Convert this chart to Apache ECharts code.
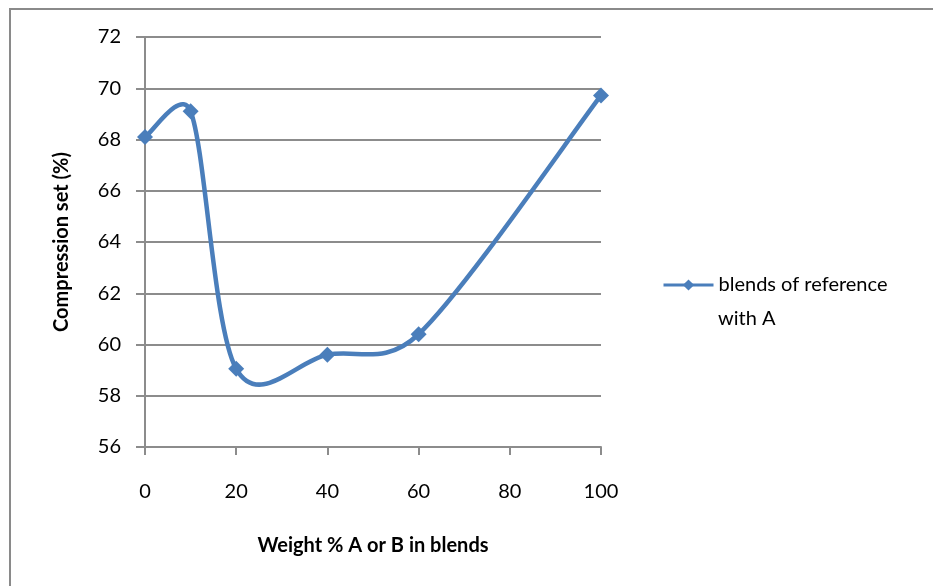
<!DOCTYPE html>
<html>
<head>
<meta charset="utf-8">
<script src="https://cdn.jsdelivr.net/npm/echarts@6/dist/echarts.min.js"></script>
<style>
  html, body { margin: 0; padding: 0; background: #fff; }
  #chart { width: 933px; height: 586px; }
</style>
</head>
<body>
<div id="chart"></div>
<script>
// weight % of A (or B) in the blend, and measured compression set
var weightPct = [0, 10, 20, 40, 60, 100];
var compressionSet = [68.1, 69.1, 59.05, 59.6, 60.4, 69.72];
var seriesName = 'blends of reference with A';

var FONT = 'Lato';
var GRAY = '#8c8c8c';
var BLUE = '#4a7ebb';

var chart = echarts.init(document.getElementById('chart'));

var points = weightPct.map(function (x, i) { return [x, compressionSet[i]]; });

// limit a control vector to half of the segment length (keeps the overshoot small, like excel)
function clampVec(v, segLen) {
  var len = Math.sqrt(v[0] * v[0] + v[1] * v[1]);
  var max = segLen * 0.5;
  if (len > max && len > 0) {
    return [v[0] * max / len, v[1] * max / len];
  }
  return v;
}

// Excel style smoothed line: catmull-rom like bezier through the points (pixel space)
function renderSpline(params, api) {
  if (params.dataIndexInside !== 0) return;
  var n = params.dataInsideLength;
  var p = [];
  for (var i = 0; i < n; i++) {
    p.push(api.coord([api.value(0, i), api.value(1, i)]));
  }
  var d = 'M' + p[0][0] + ' ' + p[0][1];
  for (var i = 0; i < n - 1; i++) {
    var p0 = p[Math.max(i - 1, 0)], p1 = p[i], p2 = p[i + 1], p3 = p[Math.min(i + 2, n - 1)];
    var seg = Math.sqrt(Math.pow(p2[0] - p1[0], 2) + Math.pow(p2[1] - p1[1], 2));
    var t1 = clampVec([(p2[0] - p0[0]) / 6, (p2[1] - p0[1]) / 6], seg);
    var t2 = clampVec([(p3[0] - p1[0]) / 6, (p3[1] - p1[1]) / 6], seg);
    var c1 = [p1[0] + t1[0], p1[1] + t1[1]];
    var c2 = [p2[0] - t2[0], p2[1] - t2[1]];
    d += ' C' + c1[0] + ' ' + c1[1] + ' ' + c2[0] + ' ' + c2[1] + ' ' + p2[0] + ' ' + p2[1];
  }
  return {
    type: 'path',
    shape: { pathData: d },
    style: { fill: 'none', stroke: BLUE, lineWidth: 4.5, lineJoin: 'round', lineCap: 'round' }
  };
}

var option = {
  backgroundColor: '#fff',
  animation: false,
  textStyle: { fontFamily: FONT, color: '#000' },
  graphic: [
    {
      type: 'rect',
      shape: { x: 10, y: 9, width: 1000, height: 1000 },
      style: { fill: 'none', stroke: '#8a8a8a', lineWidth: 2 },
      silent: true
    },
    {
      // second line of the legend label
      type: 'text',
      left: 718,
      top: 309,
      style: { text: 'with A', fontFamily: FONT, fontSize: 20, fill: '#000' },
      silent: true
    }
  ],
  grid: { left: 145, right: 332, top: 37, bottom: 139, containLabel: false },
  legend: {
    left: 657,
    top: 270,
    orient: 'vertical',
    itemWidth: 50,
    itemHeight: 14,
    data: [seriesName],
    formatter: function () { return 'blends of reference'; },
    lineStyle: { color: BLUE, width: 3, opacity: 1 },
    textStyle: { fontFamily: FONT, fontSize: 20, color: '#000', lineHeight: 20 }
  },
  xAxis: {
    type: 'value',
    min: 0,
    max: 100,
    interval: 20,
    name: 'Weight % A or B in blends',
    nameLocation: 'middle',
    nameGap: 89,
    nameTextStyle: { fontFamily: FONT, fontSize: 20, fontWeight: 'bold', color: '#000' },
    axisLine: { show: true, onZero: false, lineStyle: { color: GRAY, width: 2 } },
    axisTick: { show: true, inside: false, length: 8, lineStyle: { color: GRAY, width: 2 } },
    axisLabel: { margin: 35, fontSize: 20, color: '#000', fontFamily: FONT },
    splitLine: { show: false }
  },
  yAxis: {
    type: 'value',
    min: 56,
    max: 72,
    interval: 2,
    name: 'Compression set (%)',
    nameLocation: 'middle',
    nameRotate: 90,
    nameGap: 73,
    nameTextStyle: { fontFamily: FONT, fontSize: 20, fontWeight: 'bold', color: '#000' },
    axisLine: { show: true, lineStyle: { color: GRAY, width: 2 } },
    axisTick: { show: true, inside: false, length: 9, lineStyle: { color: GRAY, width: 2 } },
    axisLabel: { margin: 24, fontSize: 20, color: '#000', fontFamily: FONT },
    splitLine: { show: true, lineStyle: { color: GRAY, width: 2 } }
  },
  series: [
    {
      name: seriesName + ' curve',
      type: 'custom',
      data: points,
      renderItem: renderSpline,
      clip: false,
      z: 2,
      silent: true
    },
    {
      name: seriesName,
      type: 'line',
      data: points,
      symbol: 'diamond',
      symbolSize: 16,
      lineStyle: { color: BLUE, width: 3, opacity: 0 },
      itemStyle: { color: BLUE },
      z: 3
    }
  ]
};

chart.setOption(option);
</script>
</body>
</html>
